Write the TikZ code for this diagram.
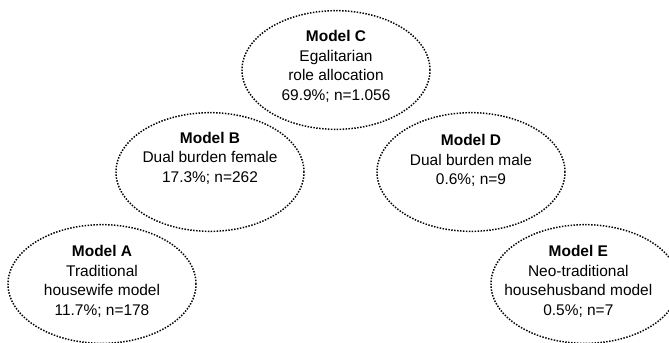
\documentclass[tikz,border=0pt]{standalone}
\usepackage{fontspec}
\setmainfont{Liberation Sans}
\usetikzlibrary{shapes.geometric,positioning}
\tikzset{model/.style={ellipse, draw, line width=1.1pt, dash pattern=on 1.1pt off 1.1pt,
    minimum width=141pt, minimum height=89pt, inner sep=0pt},
  modeltext/.style={align=center, inner sep=0pt, font=\fontsize{11.6}{14.6}\selectfont}}

\begin{document}
\begin{tikzpicture}[on grid]
  \useasboundingbox (0,0) rectangle (501.75pt,-257.25pt);
  \node[model] (C) at (252pt,-52.5pt) {};
  \node[model] (B) [below left=76.5pt and 94.5pt of C] {};
  \node[model] (D) [below right=76.5pt and 101.25pt of C] {};
  \node[model] (A) [below left=84pt and 81pt of B] {};
  \node[model] (E) [below right=84pt and 85.5pt of D] {};
  % texts sit a little above the middle of each ellipse
  \node[modeltext, yshift=2.6pt] (Ct) at (C) {\textbf{Model C}\\Egalitarian\\role allocation\\69.9\%; n=1.056};
  \node[modeltext, yshift=10.5pt] (Bt) at (B) {\textbf{Model B}\\Dual burden female\\17.3\%; n=262};
  \node[modeltext, yshift=8.5pt] (Dt) at (D) {\textbf{Model D}\\Dual burden male\\0.6\%; n=9};
  \node[modeltext, yshift=2pt] (At) at (A) {\textbf{Model A}\\Traditional\\housewife model\\11.7\%; n=178};
  \node[modeltext, yshift=2pt, xshift=-5pt] (Et) at (E) {\textbf{Model E}\\Neo-traditional\\househusband model\\0.5\%; n=7};
\end{tikzpicture}
\end{document}
